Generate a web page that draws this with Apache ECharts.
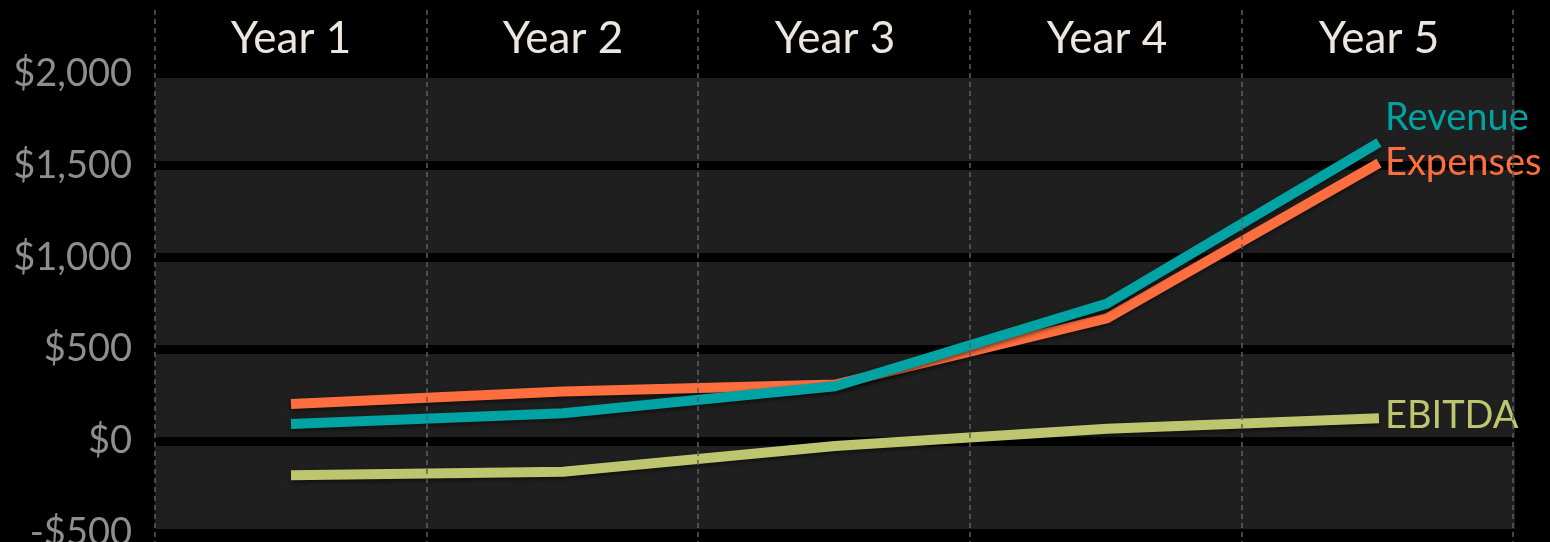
<!DOCTYPE html>
<html>
<head>
<meta charset="utf-8">
<title>Five-year financial projection</title>
<script src="https://cdn.jsdelivr.net/npm/echarts@6/dist/echarts.min.js"></script>
<style>
  html, body { margin: 0; padding: 0; background: #000; overflow: hidden; }
  #chart { width: 1550px; height: 542px; }
</style>
</head>
<body>
<div id="chart"></div>
<script>
// Projection data (in $ thousands)
const years = ['Year 1', 'Year 2', 'Year 3', 'Year 4', 'Year 5'];
const revenue = [93, 151, 298, 748, 1625];
const expenses = [201, 269, 307, 668, 1513];
const ebitda = [-187, -167, -27, 67, 124];

const yTicks = { min: -500, max: 2000, step: 500 };

const FONT = 'Lato';
const COLORS = { revenue: '#00A3A3', expenses: '#FF6E3E', ebitda: '#BDC66E' };

function money(v) {
  const s = '$' + Math.abs(v).toLocaleString('en-US');
  return v < 0 ? '-' + s : s;
}

function lineSeries(name, data, color, offset) {
  return {
    name: name,
    type: 'line',
    data: data,
    xAxisIndex: 0,
    yAxisIndex: 0,
    symbol: 'none',
    z: 3,
    lineStyle: {
      width: 10,
      color: color,
      cap: 'butt',
      join: 'miter',
      shadowColor: 'rgba(0,0,0,0.55)',
      shadowBlur: 4,
      shadowOffsetY: 2
    },
    endLabel: {
      show: true,
      formatter: name,
      color: color,
      fontFamily: FONT,
      fontSize: 38,
      distance: 6,
      offset: offset
    }
  };
}

const chart = echarts.init(document.getElementById('chart'), null, { renderer: 'canvas' });

chart.setOption({
  backgroundColor: '#000000',
  animation: false,
  grid: [
    {
      left: 155, right: 35, top: 73.7, bottom: 9.2,
      outerBoundsMode: 'none',
      show: true, backgroundColor: '#1F1F1F', borderWidth: 0
    },
    // overlay grid holding the dashed column separators, taller than the plot
    { left: 155, right: 37, top: 10, bottom: 0, outerBoundsMode: 'none', show: false, z: 10 }
  ],
  xAxis: [
    {
      type: 'category',
      gridIndex: 0,
      data: years,
      position: 'top',
      boundaryGap: true,
      axisLine: { show: false },
      axisTick: { show: false },
      splitLine: { show: false },
      axisLabel: { color: '#EDE6DE', fontFamily: FONT, fontSize: 44, margin: 13 }
    },
    {
      type: 'category',
      gridIndex: 1,
      data: years,
      boundaryGap: true,
      z: 10,
      axisLine: { show: false },
      axisTick: { show: false },
      axisLabel: { show: false },
      splitLine: { show: true, lineStyle: { color: '#5E5E5E', width: 1.5, type: [5, 4] } }
    }
  ],
  yAxis: [
    {
      type: 'value',
      gridIndex: 0,
      min: yTicks.min,
      max: yTicks.max,
      interval: yTicks.step,
      axisLine: { show: false },
      axisTick: { show: false },
      splitLine: { show: true, lineStyle: { color: '#000000', width: 9 } },
      axisLabel: {
        color: '#8E8E8E',
        fontFamily: FONT,
        fontSize: 38,
        margin: 23,
        formatter: money
      }
    },
    {
      type: 'value',
      gridIndex: 1,
      min: 0,
      max: 1,
      show: false
    }
  ],
  series: [
    lineSeries('EBITDA', ebitda, COLORS.ebitda, [0, -2]),
    lineSeries('Expenses', expenses, COLORS.expenses, [0, 0]),
    lineSeries('Revenue', revenue, COLORS.revenue, [0, -25])
  ]
});
</script>
</body>
</html>
